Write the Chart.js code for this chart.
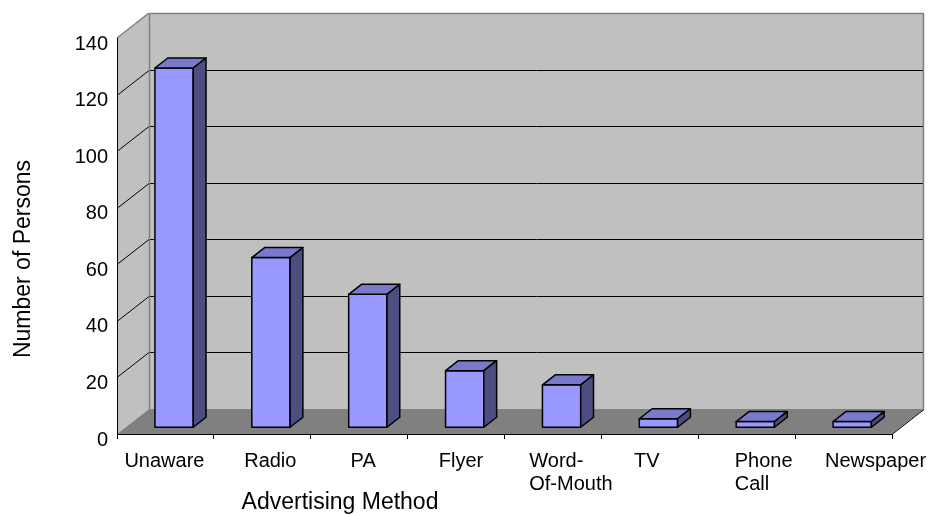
<!DOCTYPE html>
<html>
<head>
<meta charset="utf-8">
<title>Advertising Method</title>
<script src="https://cdn.jsdelivr.net/npm/chart.js@4/dist/chart.umd.min.js"></script>
<style>
  html, body { margin: 0; padding: 0; background: #fff; }
  #chart { display: block; }
</style>
</head>
<body>
<canvas id="chart" width="931" height="515"></canvas>
<script>
// survey results: how people heard about the event
const methods = ['Unaware', 'Radio', 'PA', 'Flyer', ['Word-', 'Of-Mouth'], 'TV', ['Phone', 'Call'], 'Newspaper'];
const persons = [127, 60, 47, 20, 15, 3, 2, 2];
const yMin = 0;
const yMax = 140;
const yStep = 20;

const xTitle = 'Advertising Method';
const yTitle = 'Number of Persons';

// category labels drift a little off the category centre, like the spreadsheet export
const labelNudge = [-1, 8, 4, 5, 18, -3, 17, 32];

// 3d look: how far the back wall sits behind the front plane
const DEPTH_X = 32;
const DEPTH_Y = -25;
// bars sit in the middle of the floor depth
const BAR_FRONT = 0.27;
const BAR_DEPTH = 0.4;

const FONT = '"Liberation Sans", Arial, sans-serif';
const WALL = '#c0c0c0';
const WALL_EDGE = '#808080';
const FLOOR = '#808080';
const BAR_FACE = '#9999ff';
const BAR_TOP = '#7a7acc';
const BAR_SIDE = '#4d4d80';

Chart.defaults.font.family = FONT;
Chart.defaults.color = '#000';

function poly(ctx, pts, fill, stroke, lw) {
  ctx.beginPath();
  ctx.moveTo(pts[0][0], pts[0][1]);
  for (let i = 1; i < pts.length; i++) ctx.lineTo(pts[i][0], pts[i][1]);
  ctx.closePath();
  if (fill) { ctx.fillStyle = fill; ctx.fill(); }
  if (stroke) { ctx.strokeStyle = stroke; ctx.lineWidth = lw || 1; ctx.stroke(); }
}

function line(ctx, x1, y1, x2, y2, color, lw) {
  ctx.beginPath();
  ctx.moveTo(x1, y1);
  ctx.lineTo(x2, y2);
  ctx.strokeStyle = color;
  ctx.lineWidth = lw || 1;
  ctx.stroke();
}

// walls, floor and gridlines behind everything else
const box3d = {
  id: 'box3d',
  beforeDraw(chart) {
    const { ctx, chartArea: a, scales: { y } } = chart;
    const L = a.left, R = a.right, T = a.top, B = a.bottom;
    ctx.save();
    ctx.fillStyle = '#fff';
    ctx.fillRect(0, 0, chart.width, chart.height);

    // back wall
    ctx.fillStyle = WALL;
    ctx.fillRect(L + DEPTH_X, T + DEPTH_Y, R - L, B - T);
    // side wall
    poly(ctx, [[L, T], [L + DEPTH_X, T + DEPTH_Y], [L + DEPTH_X, B + DEPTH_Y], [L, B]], WALL);
    // floor
    poly(ctx, [[L, B], [R, B], [R + DEPTH_X, B + DEPTH_Y], [L + DEPTH_X, B + DEPTH_Y]], FLOOR);

    // gridlines run along the side wall and across the back wall
    y.ticks.forEach(t => {
      if (t.value <= yMin || t.value >= yMax) return;
      const py = Math.round(y.getPixelForValue(t.value)) + 0.5;
      line(ctx, L, py, L + DEPTH_X, py + DEPTH_Y, '#000');
      line(ctx, L + DEPTH_X, py + DEPTH_Y, R + DEPTH_X, py + DEPTH_Y, '#000');
    });

    // wall outlines
    const bx = L + DEPTH_X + 0.5, by = T + DEPTH_Y + 0.5;
    line(ctx, L, T, L + DEPTH_X, T + DEPTH_Y, WALL_EDGE, 1.5);
    line(ctx, bx, by, R + DEPTH_X, by, WALL_EDGE, 1.5);
    line(ctx, bx, by, bx, B + DEPTH_Y, WALL_EDGE, 1.5);
    line(ctx, R + DEPTH_X - 0.5, by, R + DEPTH_X - 0.5, B + DEPTH_Y, WALL_EDGE, 1.5);
    // right edge of the floor
    line(ctx, R, B + 0.5, R + DEPTH_X, B + DEPTH_Y + 0.5, '#000');
    ctx.restore();
  },
  afterDatasetsDraw(chart) {
    const ctx = chart.ctx;
    const meta = chart.getDatasetMeta(0);
    const fx = BAR_FRONT * DEPTH_X, fy = BAR_FRONT * DEPTH_Y;
    const dx = BAR_DEPTH * DEPTH_X, dy = BAR_DEPTH * DEPTH_Y;
    ctx.save();
    ctx.lineJoin = 'round';
    meta.data.forEach(bar => {
      const { x, y, base, width } = bar.getProps(['x', 'y', 'base', 'width'], true);
      const l = x - width / 2 + fx, r = x + width / 2 + fx;
      const t = y + fy, b = base + fy;
      poly(ctx, [[l, t], [r, t], [r, b], [l, b]], BAR_FACE, '#000', 1.5);
      poly(ctx, [[l, t], [r, t], [r + dx, t + dy], [l + dx, t + dy]], BAR_TOP, '#000', 1.5);
      poly(ctx, [[r, t], [r + dx, t + dy], [r + dx, b + dy], [r, b]], BAR_SIDE, '#000', 1.5);
    });
    ctx.restore();
  },
  afterDraw(chart) {
    const { ctx, scales: { x } } = chart;
    ctx.save();
    ctx.fillStyle = '#000';

    // category labels: wrapped ones keep their lines flush left
    ctx.font = '20px ' + FONT;
    ctx.textAlign = 'left';
    ctx.textBaseline = 'alphabetic';
    methods.forEach((label, i) => {
      const lines = Array.isArray(label) ? label : [label];
      const w = Math.max(...lines.map(s => ctx.measureText(s).width));
      const left = x.getPixelForValue(i) + labelNudge[i] - w / 2;
      lines.forEach((s, k) => ctx.fillText(s, left, x.bottom - 81 + 33 + k * 23));
    });

    ctx.font = '23px ' + FONT;
    ctx.textAlign = 'center';
    ctx.textBaseline = 'middle';
    ctx.fillText(xTitle, 340, 503);
    ctx.translate(24, 259);
    ctx.rotate(-Math.PI / 2);
    ctx.fillText(yTitle, 0, 0);
    ctx.restore();
  }
};

new Chart(document.getElementById('chart'), {
  type: 'bar',
  data: {
    labels: methods,
    datasets: [{
      label: yTitle,
      data: persons,
      backgroundColor: 'rgba(0,0,0,0)',
      borderWidth: 0,
      categoryPercentage: 1,
      barPercentage: 0.395
    }]
  },
  options: {
    responsive: false,
    animation: false,
    devicePixelRatio: 1,
    events: [],
    layout: { padding: { left: 0, top: 38, right: 39, bottom: 0 } },
    plugins: {
      legend: { display: false },
      tooltip: { enabled: false }
    },
    scales: {
      x: {
        grid: {
          drawOnChartArea: false,
          drawTicks: true,
          tickLength: 5,
          color: '#000'
        },
        border: { display: true, color: '#000', width: 1 },
        ticks: { display: false, autoSkip: false, maxRotation: 0 },
        afterFit(scale) { scale.height = 81; }
      },
      y: {
        min: yMin,
        max: yMax,
        grid: { display: false },
        border: { display: true, color: '#000', width: 1 },
        ticks: {
          stepSize: yStep,
          padding: 1,
          labelOffset: 6,
          font: { size: 20 }
        },
        afterFit(scale) { scale.width = 117; }
      }
    }
  },
  plugins: [box3d]
});
</script>
</body>
</html>
